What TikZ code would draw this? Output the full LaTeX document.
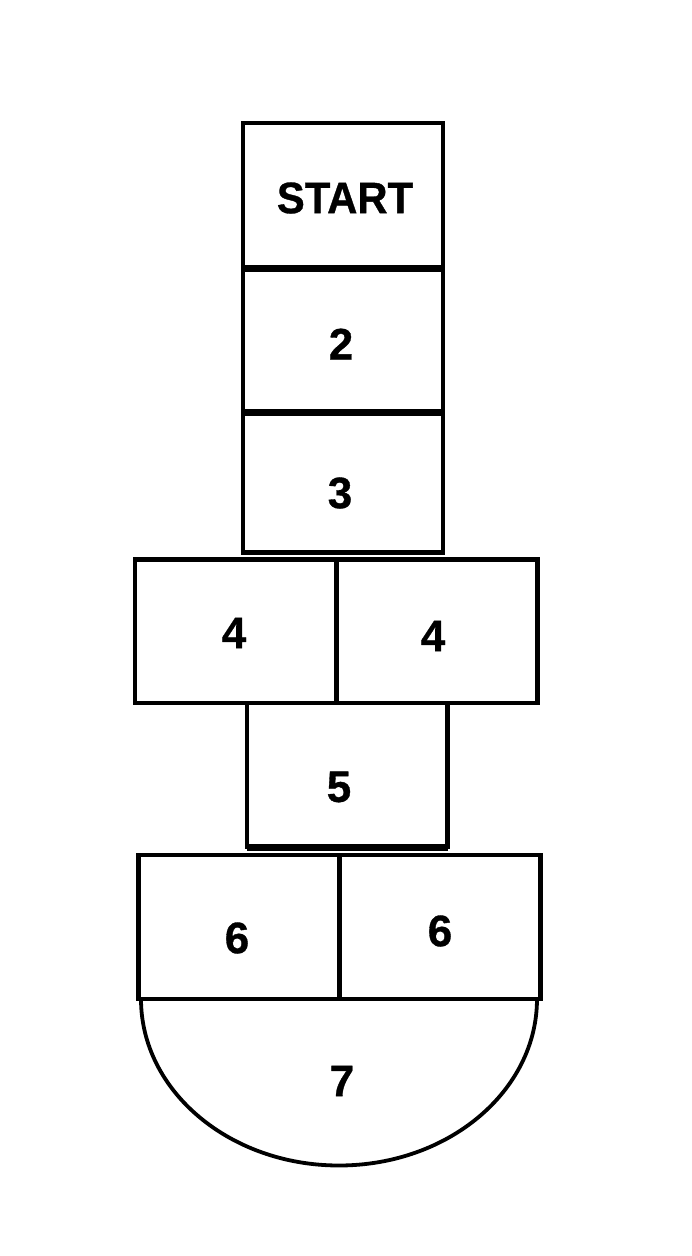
\documentclass[tikz,border=0pt]{standalone}
\usepackage{fontspec}
\setmainfont{Liberation Sans}[BoldFeatures={FakeBold=0.8}]
\begin{document}
\begin{tikzpicture}[x=1pt,y=1pt,
  cell/.style={draw=black, line width=4.5pt, rectangle, inner sep=0pt, outer sep=0pt},
  lab/.style={font=\fontsize{44}{44}\selectfont\bfseries, inner sep=0pt},
  curve/.style={draw=black, line width=3.8pt}]
\useasboundingbox (0,0) rectangle (692,-1256);
% boxes: centres and sizes in pixels, y downward (negated)
\node[cell, minimum width=200pt, minimum height=144pt] (start) at (343,-195) {};
\node[cell, minimum width=200pt, minimum height=141pt] (two) at (343,-340.5) {};
\node[cell, minimum width=200pt, minimum height=138.5pt] (three) at (343,-483.25) {};
\node[cell, minimum width=201.5pt, minimum height=143.5pt] (fourL) at (235.75,-631.25) {};
\node[cell, minimum width=201.2pt, minimum height=143.5pt] (fourR) at (437.1,-631.25) {};
\node[cell, minimum width=200.5pt, minimum height=144pt] (five) at (347.25,-775) {};
\node[cell, minimum width=200.6pt, minimum height=144pt] (sixL) at (239,-927) {};
\node[cell, minimum width=201pt, minimum height=144pt] (sixR) at (439.8,-927) {};
\draw[line width=7pt] (five.south west) -- (five.south east);
% semicircle 7
\coordinate (arcL) at (141,-999);
\draw[curve] (arcL) arc[start angle=180, end angle=360, x radius=198, y radius=166.5];
% labels
\node[lab, xscale=0.95] (tStart) at (345,-198) {START};
\node[lab] (t2) at (341,-344) {2};
\node[lab] (t3) at (340,-493) {3};
\node[lab] (t4a) at (234,-633) {4};
\node[lab] (t4b) at (433,-636) {4};
\node[lab] (t5) at (339,-787) {5};
\node[lab] (t6a) at (237,-938) {6};
\node[lab] (t6b) at (440,-931) {6};
\node[lab] (t7) at (342,-1081) {7};
\end{tikzpicture}
\end{document}
